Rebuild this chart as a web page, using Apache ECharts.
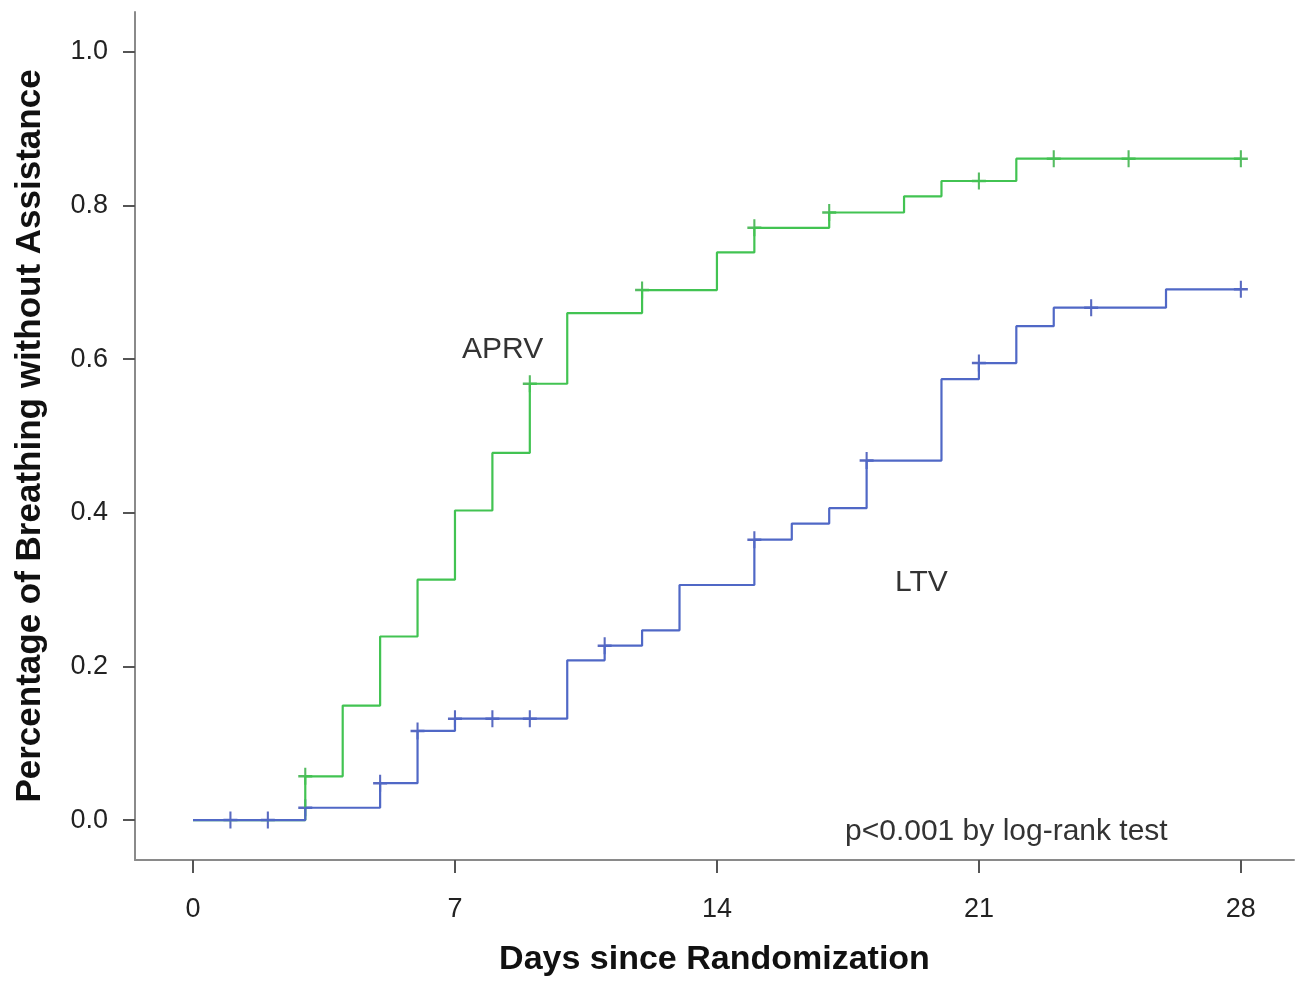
<!DOCTYPE html>
<html>
<head>
<meta charset="utf-8">
<script src="https://cdn.jsdelivr.net/npm/echarts@6/dist/echarts.min.js"></script>
<style>
html,body{margin:0;padding:0;background:#fff;}
#km{width:1305px;height:982px;}
</style>
</head>
<body>
<div id="km"></div>
<script>
// APRV (green) step curve: day of each jump and value after it
var aprvDays = [0, 3, 4, 5, 6, 7, 8, 9, 10, 12, 14, 15, 17, 19, 20, 22, 28];
var aprvVals = [0, 0.057, 0.149, 0.239, 0.313, 0.403, 0.478, 0.568, 0.660, 0.690, 0.739, 0.771, 0.791, 0.812, 0.832, 0.861, 0.861];
var aprvCensored = [3, 9, 12, 15, 17, 21, 23, 25, 28];

// LTV (blue)
var ltvDays = [0, 3, 5, 6, 7, 10, 11, 12, 13, 15, 16, 17, 18, 20, 21, 22, 23, 26, 28];
var ltvVals = [0, 0.016, 0.048, 0.116, 0.132, 0.208, 0.227, 0.247, 0.306, 0.365, 0.386, 0.406, 0.468, 0.574, 0.595, 0.643, 0.667, 0.691, 0.691];
var ltvCensored = [1, 2, 3, 5, 6, 7, 8, 9, 11, 15, 18, 21, 24, 28];

var xTicks = [0, 7, 14, 21, 28];
var yTicks = [0, 0.2, 0.4, 0.6, 0.8, 1.0];

var FONT = "'Liberation Sans', Arial, sans-serif";
var GREEN = '#42c352', GREEN_DARK = '#2aab3a';
var BLUE = '#5068c6', BLUE_DARK = '#3045b2';

function pairs(xs, ys) {
  return xs.map(function (x, i) { return [x, ys[i]]; });
}
// value of the step curve at a given day (for the censor marks)
function valueAt(days, vals, d) {
  var v = vals[0];
  for (var i = 0; i < days.length; i++) {
    if (days[i] <= d) v = vals[i];
  }
  return v;
}
function censorPts(cens, days, vals) {
  return cens.map(function (d) { return [d, valueAt(days, vals, d)]; });
}

var CROSS = 'path://M5,0L5,10M0,5L10,5';

var myChart = echarts.init(document.getElementById('km'));

var option = {
  animation: false,
  backgroundColor: '#fff',
  grid: { left: 135, right: 11, top: 12, bottom: 120 },
  xAxis: {
    type: 'value',
    min: -1.55,
    max: 29.42,
    splitLine: { show: false },
    axisLine: { onZero: false, lineStyle: { color: '#8a8a8a', width: 2 } },
    axisTick: { customValues: xTicks, length: 13, lineStyle: { color: '#555', width: 2 } },
    axisLabel: {
      customValues: xTicks, margin: 36, fontSize: 27, color: '#222', fontFamily: FONT
    },
    name: 'Days since Randomization',
    nameLocation: 'middle',
    nameGap: 83,
    nameTextStyle: { fontSize: 34, fontWeight: 'bold', color: '#111', fontFamily: FONT }
  },
  yAxis: {
    type: 'value',
    min: -0.052,
    max: 1.052,
    splitLine: { show: false },
    axisLine: { onZero: false, lineStyle: { color: '#8a8a8a', width: 2 } },
    axisTick: { customValues: yTicks, length: 12, lineStyle: { color: '#555', width: 2 } },
    axisLabel: {
      customValues: yTicks, margin: 27, fontSize: 27, color: '#222', fontFamily: FONT,
      formatter: function (v) { return v.toFixed(1); }
    },
    name: 'Percentage of Breathing without Assistance',
    nameLocation: 'middle',
    nameGap: 87,
    nameTextStyle: { fontSize: 35, fontWeight: 'bold', color: '#111', fontFamily: FONT }
  },
  series: [
    {
      name: 'APRV', type: 'line', step: 'end', showSymbol: false,
      data: pairs(aprvDays, aprvVals),
      lineStyle: { color: GREEN, width: 2.2 }
    },
    {
      name: 'LTV', type: 'line', step: 'end', showSymbol: false,
      data: pairs(ltvDays, ltvVals),
      lineStyle: { color: BLUE, width: 2.2 }
    },
    {
      type: 'scatter', symbol: CROSS, symbolSize: [14, 17],
      data: censorPts(aprvCensored, aprvDays, aprvVals),
      itemStyle: { color: 'none', borderColor: GREEN_DARK, borderWidth: 2.3 }
    },
    {
      type: 'scatter', symbol: CROSS, symbolSize: [14, 17],
      data: censorPts(ltvCensored, ltvDays, ltvVals),
      itemStyle: { color: 'none', borderColor: BLUE_DARK, borderWidth: 2.3 }
    }
  ],
  graphic: [
    { type: 'text', left: 462, top: 335, style: { text: 'APRV', font: '30px ' + FONT, fill: '#333' } },
    { type: 'text', left: 895, top: 568, style: { text: 'LTV', font: '30px ' + FONT, fill: '#333' } },
    { type: 'text', left: 845, top: 817, style: { text: 'p<0.001 by log-rank test', font: '30px ' + FONT, fill: '#333' } }
  ]
};

myChart.setOption(option);
window.addEventListener('resize', function () { myChart.resize(); });
</script>
</body>
</html>
